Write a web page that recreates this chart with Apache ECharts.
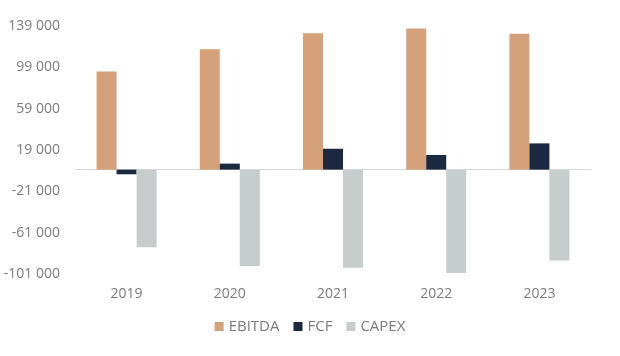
<!DOCTYPE html>
<html><head><meta charset="utf-8">
<script src="https://cdn.jsdelivr.net/npm/echarts@6/dist/echarts.min.js"></script>
<style>html,body{margin:0;padding:0;background:#fff}#c{width:620px;height:356px}</style>
</head><body><div id="c"></div>
<script>
const categories = ['2019', '2020', '2021', '2022', '2023'];
const ebitda = [95000, 116500, 132000, 136500, 131500];
const fcf = [-4500, 5800, 20200, 14200, 25400];
const capex = [-75000, -93300, -95000, -100000, -88000];
const seriesNames = ['EBITDA', 'FCF', 'CAPEX'];
const yMin = -101000, yMax = 139000, yStep = 40000;

const colors = ['#D4A17B', '#1B2940', '#C6CDCC'];
const fmt = v => {
  const s = Math.abs(Math.round(v)).toString().replace(/\B(?=(\d{3})+(?!\d))/g, ' ');
  return (v < 0 ? '-' : '') + s;
};
const font = '"Open Sans", sans-serif';
const chart = echarts.init(document.getElementById('c'), null, {renderer: 'canvas'});
chart.setOption({
  animation: false,
  color: colors,
  grid: {left: 75, right: 29, top: 26, bottom: 82},
  legend: {
    bottom: 17, left: 'center', itemWidth: 9, itemHeight: 9, itemGap: 14,
    icon: 'rect',
    textStyle: {color: '#7b7b7b', fontSize: 15, fontFamily: font},
    data: seriesNames
  },
  xAxis: [
    {type: 'category', data: categories,
     axisLine: {onZero: true, lineStyle: {color: '#d6d9dc', width: 1}},
     axisTick: {show: false}, axisLabel: {show: false}},
    {type: 'category', data: categories, position: 'bottom',
     axisLine: {show: false, onZero: false}, axisTick: {show: false},
     axisLabel: {color: '#7b7b7b', fontSize: 14, fontFamily: font, margin: 13}}
  ],
  yAxis: {
    type: 'value', min: yMin, max: yMax, interval: yStep,
    axisLine: {show: false}, axisTick: {show: false},
    splitLine: {show: false},
    axisLabel: {color: '#7b7b7b', fontSize: 14, fontFamily: font, margin: 15, formatter: fmt}
  },
  series: [
    {name: seriesNames[0], type: 'bar', data: ebitda, barWidth: 20, barGap: '0%'},
    {name: seriesNames[1], type: 'bar', data: fcf, barWidth: 20, barGap: '0%'},
    {name: seriesNames[2], type: 'bar', data: capex, barWidth: 20, barGap: '0%'}
  ]
});
</script></body></html>
